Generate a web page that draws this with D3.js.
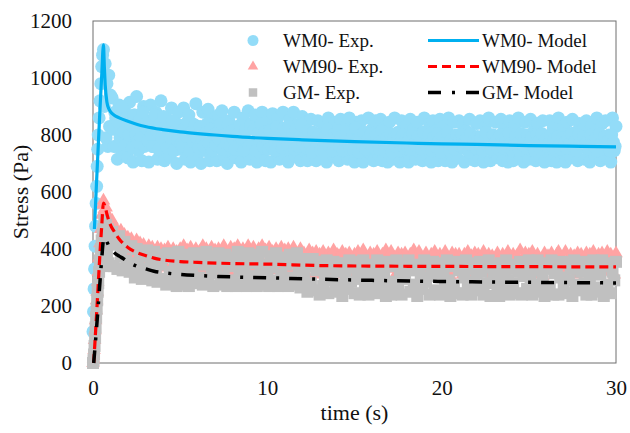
<!DOCTYPE html>
<html>
<head>
<meta charset="utf-8">
<script src="https://cdn.jsdelivr.net/npm/d3@7/dist/d3.min.js"></script>
<style>
  html, body { margin: 0; padding: 0; background: #fff; }
  svg { display: block; }
  text { font-family: "Liberation Serif", "Times New Roman", serif; fill: #111; }
</style>
</head>
<body>
<svg id="chart" width="630" height="433"></svg>
<script>
// ---------------- DATA ----------------
const xTicks = [0, 10, 20, 30];
const yTicks = [0, 200, 400, 600, 800, 1000, 1200];

const seriesNames = ["WM0- Exp.", "WM90- Exp.", "GM- Exp.", "WM0- Model", "WM90- Model", "GM- Model"];

// start-up sampling times (s) of the experiments
const rampTime = [0, 0.03, 0.06, 0.09, 0.12, 0.15, 0.18, 0.21, 0.24, 0.27, 0.3, 0.35, 0.4, 0.45, 0.5, 0.55, 0.6, 0.65, 0.7, 0.75, 0.8, 0.85, 0.9, 0.95, 1.0];
// steady sampling: every 0.1 s from 1.1 s to 30 s
const steadyTime = d3.range(11, 301).map(i => i / 10);
// WM0 was sampled twice as often: extra readings at 1.15, 1.25, ... 29.95 s
const steadyTimeHalf = d3.range(115, 3000, 10).map(i => i / 100);

const wm0ExpRamp = [110, 180, 260, 330, 410, 480, 560, 620, 690, 750, 800, 860, 920, 980, 1040, 1080, 1100, 900, 1050, 790, 980, 760, 1010, 830, 940];
const wm0ExpSteady = [
  930, 760, 860, 715, 905, 800, 735, 890, 830, 720,
  915, 785, 705, 870, 935, 745, 820, 710, 900, 770,
  850, 705, 905, 760, 830, 880, 715, 790, 920, 740,
  710, 860, 810, 725, 895, 770, 845, 700, 880, 750,
  820, 895, 715, 785, 870, 705, 840, 760, 910, 730,
  795, 700, 880, 825, 745, 890, 710, 855, 775, 835,
  710, 870, 760, 885, 730, 815, 700, 850, 790, 740,
  880, 720, 830, 770, 705, 860, 805, 745, 885, 715,
  840, 760, 870, 705, 815, 735, 880, 780, 710, 850,
  770, 705, 875, 825, 740, 860, 715, 795, 880, 730,
  810, 705, 855, 765, 880, 725, 835, 780, 710, 865,
  745, 845, 710, 800, 855, 730, 775, 710, 850, 790,
  720, 835, 765, 705, 860, 750, 815, 725, 845, 780,
  710, 855, 795, 740, 830, 715, 860, 760, 810, 705,
  845, 770, 725, 850, 705, 800, 750, 860, 735, 820,
  710, 850, 785, 730, 855, 710, 825, 765, 705, 845,
  775, 715, 860, 745, 810, 705, 850, 790, 725, 835,
  705, 855, 760, 820, 715, 845, 740, 795, 710, 860,
  780, 725, 840, 705, 850, 765, 815, 710, 855, 750,
  830, 710, 790, 860, 735, 705, 845, 775, 720, 850,
  760, 835, 705, 815, 745, 855, 715, 790, 710, 840,
  725, 850, 770, 705, 830, 750, 860, 710, 800, 735,
  845, 720, 785, 855, 710, 820, 740, 705, 850, 765,
  710, 835, 755, 860, 725, 800, 705, 845, 780, 715,
  855, 745, 815, 710, 840, 770, 720, 850, 705, 795,
  735, 850, 710, 825, 760, 705, 860, 780, 740, 830,
  705, 845, 790, 720, 855, 750, 810, 710, 840, 765,
  820, 715, 850, 745, 705, 835, 775, 725, 860, 790,
  710, 840, 760, 850, 720, 800, 705, 860, 745, 830
];
const wm0ExpSteadyHalf = [
  820, 880, 760, 845, 790, 900, 810, 765, 860, 800,
  835, 755, 870, 800, 775, 850, 790, 880, 760, 825,
  780, 845, 800, 760, 870, 815, 750, 840, 790, 865,
  805, 755, 830, 790, 850, 745, 815, 780, 835, 770,
  760, 825, 795, 850, 745, 810, 775, 835, 790, 755,
  830, 775, 760, 805, 840, 770, 820, 745, 800, 765,
  790, 815, 840, 750, 800, 770, 835, 760, 815, 785,
  750, 800, 765, 835, 785, 745, 820, 775, 760, 830,
  770, 820, 745, 805, 780, 840, 760, 810, 790, 750,
  815, 760, 790, 745, 830, 775, 800, 755, 825, 785,
  765, 830, 780, 805, 750, 820, 760, 795, 835, 770,
  790, 755, 815, 770, 740, 810, 780, 760, 800, 745,
  780, 745, 800, 820, 760, 790, 745, 805, 770, 815,
  760, 795, 745, 780, 810, 770, 750, 790, 745, 825,
  785, 740, 800, 765, 810, 750, 785, 770, 805, 760,
  755, 800, 770, 750, 815, 780, 745, 790, 765, 805,
  740, 790, 760, 805, 770, 745, 800, 755, 785, 760,
  790, 750, 805, 770, 760, 795, 775, 750, 810, 765,
  755, 800, 770, 745, 790, 760, 805, 780, 740, 795,
  770, 760, 810, 745, 785, 770, 750, 800, 765, 790,
  800, 755, 775, 790, 740, 805, 760, 780, 755, 795,
  765, 790, 745, 780, 810, 760, 775, 750, 800, 770,
  780, 750, 800, 770, 755, 790, 760, 805, 770, 745,
  760, 795, 770, 745, 805, 765, 785, 755, 800, 770,
  790, 760, 745, 800, 775, 750, 805, 765, 785, 760,
  770, 800, 760, 785, 745, 795, 765, 750, 790, 775,
  755, 790, 770, 805, 760, 780, 745, 800, 770, 760,
  795, 765, 780, 750, 800, 770, 760, 790, 745, 805,
  770, 750, 795, 765, 780, 745, 800, 775, 760
];

const wm90ExpRamp = [0, 15, 45, 80, 115, 150, 185, 220, 250, 285, 320, 370, 420, 470, 520, 555, 570, 540, 510, 545, 470, 520, 455, 500, 440];
const wm90ExpSteady = [
  500, 430, 475, 455, 410, 465, 395, 450, 420, 440,
  380, 435, 415, 360, 430, 395, 420, 350, 415, 400,
  365, 410, 340, 405, 380, 330, 405, 360, 400, 345,
  395, 335, 405, 370, 320, 400, 355, 390, 330, 400,
  360, 410, 325, 395, 345, 405, 375, 320, 400, 350,
  390, 330, 410, 365, 400, 320, 385, 405, 340, 395,
  355, 400, 325, 390, 410, 345, 380, 320, 405, 365,
  400, 335, 410, 370, 325, 400, 390, 345, 410, 330,
  385, 405, 350, 320, 400, 365, 410, 335, 395, 355,
  405, 325, 390, 370, 400, 340, 380, 405, 330, 395,
  360, 400, 320, 385, 405, 345, 375, 330, 400, 365,
  385, 315, 375, 395, 340, 385, 310, 390, 360, 380,
  330, 390, 355, 305, 385, 370, 320, 395, 345, 380,
  375, 310, 390, 340, 380, 325, 385, 360, 305, 380,
  350, 390, 320, 380, 395, 335, 370, 310, 385, 355,
  380, 325, 390, 365, 305, 380, 345, 395, 330, 375,
  390, 340, 370, 315, 385, 355, 380, 310, 385, 360,
  330, 380, 350, 395, 320, 375, 390, 340, 365, 310,
  385, 355, 310, 380, 345, 390, 325, 370, 380, 335,
  370, 390, 330, 360, 305, 385, 350, 380, 320, 380,
  345, 310, 380, 365, 390, 330, 375, 315, 385, 355,
  380, 335, 370, 390, 320, 360, 380, 305, 375, 345,
  315, 385, 355, 330, 380, 365, 310, 390, 340, 370,
  380, 325, 375, 350, 395, 315, 365, 385, 335, 380,
  350, 390, 310, 370, 380, 340, 360, 305, 385, 355,
  375, 330, 385, 355, 315, 380, 390, 345, 370, 320,
  390, 360, 325, 380, 345, 375, 310, 385, 355, 380,
  335, 370, 385, 315, 380, 350, 390, 325, 365, 380,
  355, 385, 320, 375, 390, 340, 380, 360, 310, 385
];

const gmExpRamp = [0, 10, 30, 60, 90, 125, 160, 190, 220, 250, 280, 320, 360, 400, 430, 450, 470, 500, 420, 485, 380, 470, 350, 455, 340];
const gmExpSteady = [
  460, 340, 415, 330, 445, 375, 325, 425, 360, 405,
  320, 410, 350, 300, 400, 340, 390, 295, 375, 330,
  395, 300, 360, 290, 390, 330, 285, 380, 345, 295,
  370, 275, 385, 320, 285, 375, 340, 270, 390, 305,
  350, 275, 380, 310, 270, 365, 330, 385, 280, 355,
  300, 380, 275, 345, 390, 285, 360, 315, 270, 375,
  335, 385, 275, 355, 300, 380, 270, 340, 370, 290,
  360, 270, 390, 320, 280, 365, 340, 270, 385, 305,
  380, 285, 350, 270, 370, 325, 390, 275, 345, 310,
  270, 375, 335, 290, 385, 270, 355, 310, 370, 280,
  345, 270, 380, 300, 360, 275, 385, 325, 265, 365,
  305, 360, 250, 340, 280, 365, 255, 325, 355, 240,
  345, 270, 310, 360, 245, 335, 290, 355, 250, 320,
  275, 350, 235, 340, 300, 260, 360, 285, 335, 245,
  355, 295, 240, 330, 360, 265, 310, 240, 345, 280,
  320, 245, 360, 290, 255, 340, 305, 235, 355, 270,
  240, 340, 285, 360, 260, 315, 240, 350, 295, 330,
  360, 250, 325, 275, 345, 235, 340, 300, 260, 360,
  285, 345, 240, 320, 355, 255, 305, 340, 240, 350,
  310, 260, 360, 290, 235, 340, 275, 355, 245, 325,
  345, 240, 300, 360, 265, 330, 240, 350, 285, 315,
  255, 355, 320, 240, 340, 280, 360, 235, 335, 295,
  340, 270, 235, 350, 310, 250, 360, 290, 240, 330,
  280, 345, 245, 320, 355, 240, 305, 340, 260, 360,
  300, 240, 340, 275, 360, 250, 325, 290, 235, 350,
  330, 260, 360, 240, 315, 340, 240, 300, 355, 270,
  245, 350, 290, 330, 235, 360, 275, 340, 255, 320,
  355, 280, 240, 340, 305, 240, 360, 265, 325, 250,
  310, 360, 235, 340, 275, 350, 245, 320, 290, 355
];

// model curves
const wm0ModelTime  = [0.08, 0.2, 0.3, 0.4, 0.5, 0.6, 0.65, 0.7, 0.8, 0.9, 1.0, 1.2, 1.5, 2, 2.5, 3, 4, 5, 6, 7, 8, 10, 12, 15, 18, 20, 22, 25, 28, 30];
const wm0ModelValue = [470, 630, 760, 890, 1010, 1116, 1040, 975, 915, 893, 882, 870, 860, 848, 838, 830, 819, 811, 805, 800, 795, 788, 783, 777, 772, 769, 767, 763, 760, 758];

const wm90ModelTime  = [0.04, 0.2, 0.3, 0.4, 0.5, 0.6, 0.7, 0.8, 1.0, 1.2, 1.5, 1.75, 2, 2.5, 3, 3.5, 4, 5, 6, 8, 10, 13, 16, 20, 25, 30];
const wm90ModelValue = [0, 165, 275, 385, 480, 561, 548, 522, 485, 463, 435, 418, 405, 388, 377, 368, 362, 356, 353, 349, 347, 342, 340, 339, 338, 337];

const gmModelTime  = [0.04, 0.2, 0.3, 0.4, 0.5, 0.6, 0.7, 0.8, 1.0, 1.2, 1.5, 1.75, 2, 2.5, 3, 3.5, 4, 5, 6, 8, 10, 13, 16, 20, 25, 30];
const gmModelValue = [0, 120, 200, 285, 365, 430, 440, 425, 400, 388, 375, 366, 355, 340, 331, 322, 317, 311, 307, 302, 299, 294, 290, 286, 283, 281];

// ---------------- STYLES ----------------
const colWm0Exp = "#93dcf8";
const colWm90Exp = "#ffa3a3";
const colGmExp = "#c0c0c0";
const colWm0Model = "#00b0f0";
const colWm90Model = "#ff0000";
const colGmModel = "#000000";
const fontFam = "'Liberation Serif', 'Times New Roman', serif";

// ---------------- CHART ----------------
const svg = d3.select("#chart");
const x = d3.scaleLinear().domain([0, 30]).range([93, 616]);
const y = d3.scaleLinear().domain([0, 1200]).range([363, 21]);

// frame
svg.append("rect")
  .attr("x", x(0)).attr("y", y(1200))
  .attr("width", x(30) - x(0)).attr("height", y(0) - y(1200))
  .attr("fill", "none").attr("stroke", "#6e6e6e").attr("stroke-width", 1);

// axes
const yAxis = svg.append("g").attr("transform", `translate(${x(0)},0)`)
  .call(d3.axisLeft(y).tickValues(yTicks).tickSize(0).tickPadding(21).tickFormat(d3.format("d")));
const xAxis = svg.append("g").attr("transform", `translate(0,${y(0)})`)
  .call(d3.axisBottom(x).tickValues(xTicks).tickSize(0).tickPadding(17).tickFormat(d3.format("d")));
[yAxis, xAxis].forEach(g => {
  g.attr("font-family", fontFam).attr("font-size", 21);
  g.select(".domain").remove();
  g.selectAll("text").style("font-family", fontFam).style("font-size", "21px").attr("fill", "#111");
});

svg.append("text").attr("transform", "translate(28,192) rotate(-90)")
  .attr("text-anchor", "middle").style("font-size", "22px").text("Stress (Pa)");
svg.append("text").attr("x", (x(0) + x(30)) / 2).attr("y", 420)
  .attr("text-anchor", "middle").style("font-size", "22px").text("time (s)");

// experimental points
function zip(t, v) { return t.map((tt, i) => [tt, v[i]]); }
const wm0Pts = zip(rampTime, wm0ExpRamp).concat(zip(steadyTime, wm0ExpSteady), zip(steadyTimeHalf, wm0ExpSteadyHalf));
const wm90Pts = zip(rampTime, wm90ExpRamp).concat(zip(steadyTime, wm90ExpSteady));
const gmPts = zip(rampTime, gmExpRamp).concat(zip(steadyTime, gmExpSteady));

svg.append("g").selectAll("circle").data(wm0Pts).join("circle")
  .attr("cx", d => x(d[0])).attr("cy", d => y(d[1])).attr("r", 6.5).attr("fill", colWm0Exp);

const tri = d3.symbol().type(d3.symbolTriangle).size(80);
svg.append("g").selectAll("path").data(wm90Pts).join("path")
  .attr("d", tri).attr("transform", d => `translate(${x(d[0])},${y(d[1])})`).attr("fill", colWm90Exp);

const sq = d3.symbol().type(d3.symbolSquare).size(144);
svg.append("g").selectAll("path").data(gmPts).join("path")
  .attr("d", sq).attr("transform", d => `translate(${x(d[0])},${y(d[1])})`).attr("fill", colGmExp);

// model lines
const line = d3.line().x(d => x(d[0])).y(d => y(d[1])).curve(d3.curveMonotoneX);

svg.append("path").datum(zip(wm0ModelTime, wm0ModelValue)).attr("d", line)
  .attr("fill", "none").attr("stroke", colWm0Model).attr("stroke-width", 3.2);
svg.append("path").datum(zip(wm90ModelTime, wm90ModelValue)).attr("d", line)
  .attr("fill", "none").attr("stroke", colWm90Model).attr("stroke-width", 3.2).attr("stroke-dasharray", "9,5");
svg.append("path").datum(zip(gmModelTime, gmModelValue)).attr("d", line)
  .attr("fill", "none").attr("stroke", colGmModel).attr("stroke-width", 3.5).attr("stroke-dasharray", "13,10,3,10");

// legend
const leg = svg.append("g");
const rowsY = [40.5, 66.5, 92.5];
const legTri = d3.symbol().type(d3.symbolTriangle).size(48);
const legSq = d3.symbol().type(d3.symbolSquare).size(72);
leg.append("circle").attr("cx", 253).attr("cy", rowsY[0]).attr("r", 5.5).attr("fill", colWm0Exp);
leg.append("path").attr("d", legTri).attr("transform", `translate(253,${rowsY[1]})`).attr("fill", colWm90Exp);
leg.append("path").attr("d", legSq).attr("transform", `translate(253,${rowsY[2]})`).attr("fill", colGmExp);
[0, 1, 2].forEach(i => {
  leg.append("text").attr("x", 283).attr("y", rowsY[i] + 6.5).style("font-size", "19px").text(seriesNames[i]);
});
const lineStyles = [
  { c: colWm0Model, w: 3.2, dash: null },
  { c: colWm90Model, w: 3.2, dash: "9,5" },
  { c: colGmModel, w: 3.5, dash: "13,11,3,11" }
];
lineStyles.forEach((s, i) => {
  const l = leg.append("line").attr("x1", 428).attr("x2", 479).attr("y1", rowsY[i]).attr("y2", rowsY[i])
    .attr("stroke", s.c).attr("stroke-width", s.w);
  if (s.dash) l.attr("stroke-dasharray", s.dash);
  leg.append("text").attr("x", 482).attr("y", rowsY[i] + 6.5).style("font-size", "19px").text(seriesNames[i + 3]);
});
</script>
</body>
</html>
